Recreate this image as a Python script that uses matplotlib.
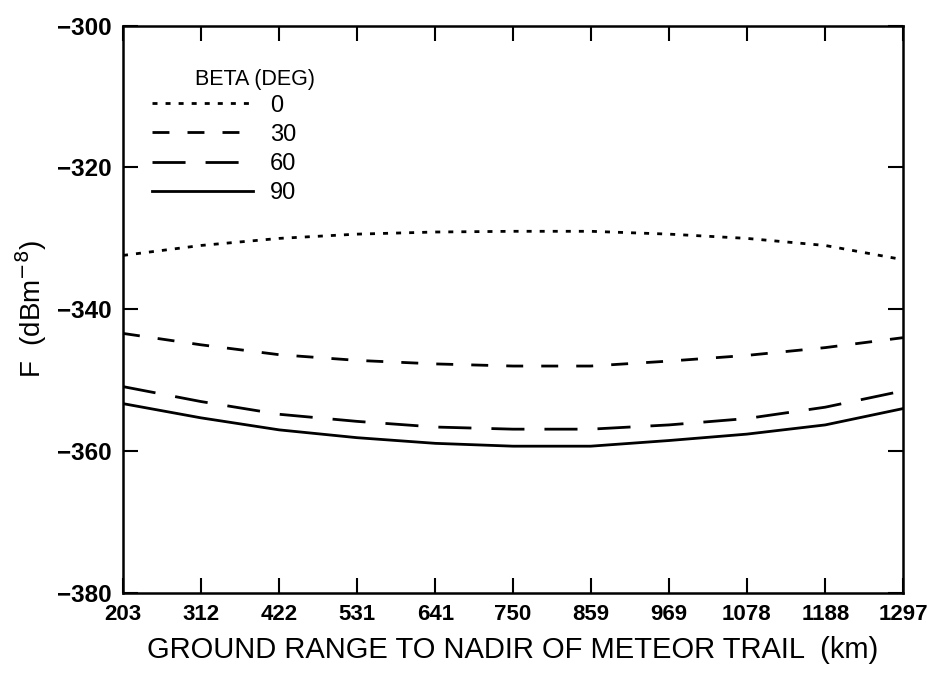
import matplotlib
matplotlib.use('Agg')
import matplotlib.pyplot as plt
from matplotlib.lines import Line2D

plt.rcParams['font.family'] = ['Liberation Sans Narrow', 'Liberation Sans', 'DejaVu Sans']

# ground range (km) and F (dBm^-8) for each beta angle
ground_range = [203, 312, 422, 531, 641, 750, 859, 969, 1078, 1188, 1297]
f_beta_0 = [-332.4, -331.0, -330.0, -329.4, -329.1, -329.0, -329.0, -329.4, -330.0, -331.0, -333.0]
f_beta_30 = [-343.4, -345.0, -346.4, -347.2, -347.7, -348.0, -348.0, -347.3, -346.5, -345.4, -344.0]
f_beta_60 = [-350.9, -353.0, -354.8, -355.8, -356.6, -356.9, -356.9, -356.3, -355.4, -353.8, -351.5]
f_beta_90 = [-353.3, -355.3, -357.0, -358.1, -358.9, -359.3, -359.3, -358.5, -357.6, -356.3, -354.0]

beta_labels = ['0', '30', '60', '90']
y_ticks = [-300, -320, -340, -360, -380]

fig = plt.figure(figsize=(9.27, 6.73), dpi=100)
ax = fig.add_axes([0.1327, 0.1189, 0.8414, 0.843])

lw = 2.0
styles = [(0, (1.8, 2.9)), (0, (6.1, 6.5)), (0, (11.9, 7.2)), '-']
series = [f_beta_0, f_beta_30, f_beta_60, f_beta_90]
for vals, ls in zip(series, styles):
    ax.plot(ground_range, vals, color='black', lw=lw, linestyle=ls)

ax.set_xlim(203, 1297)
ax.set_ylim(-380, -300)
ax.set_xticks(ground_range)
ax.set_xticklabels([str(v) for v in ground_range])
ax.set_yticks(y_ticks)

for s in ax.spines.values():
    s.set_linewidth(1.8)
ax.tick_params(direction='in', length=11, width=1.5, top=True, right=True, pad=8)
ax.tick_params(axis='x', labelsize=16)
ax.tick_params(axis='y', labelsize=17.5)
for lab in ax.get_xticklabels() + ax.get_yticklabels():
    lab.set_fontweight('bold')

ax.set_xlabel('GROUND RANGE TO NADIR OF METEOR TRAIL  (km)', fontsize=21, labelpad=8)
ax.set_ylabel(r'F  (dBm$^{-8}$)', fontsize=20, labelpad=6)

# legend
handles = [Line2D([], [], color='black', lw=lw, linestyle=ls) for ls in styles]
ax.text(0.092, 0.905, 'BETA (DEG)', transform=ax.transAxes, fontsize=15.5,
        va='center')
ax.legend(handles, beta_labels, loc='upper left', bbox_to_anchor=(0.025, 0.895),
          frameon=False, fontsize=17, handlelength=4.3, handletextpad=0.7,
          labelspacing=0.3, borderaxespad=0)

fig.savefig('out.png', dpi=100)
